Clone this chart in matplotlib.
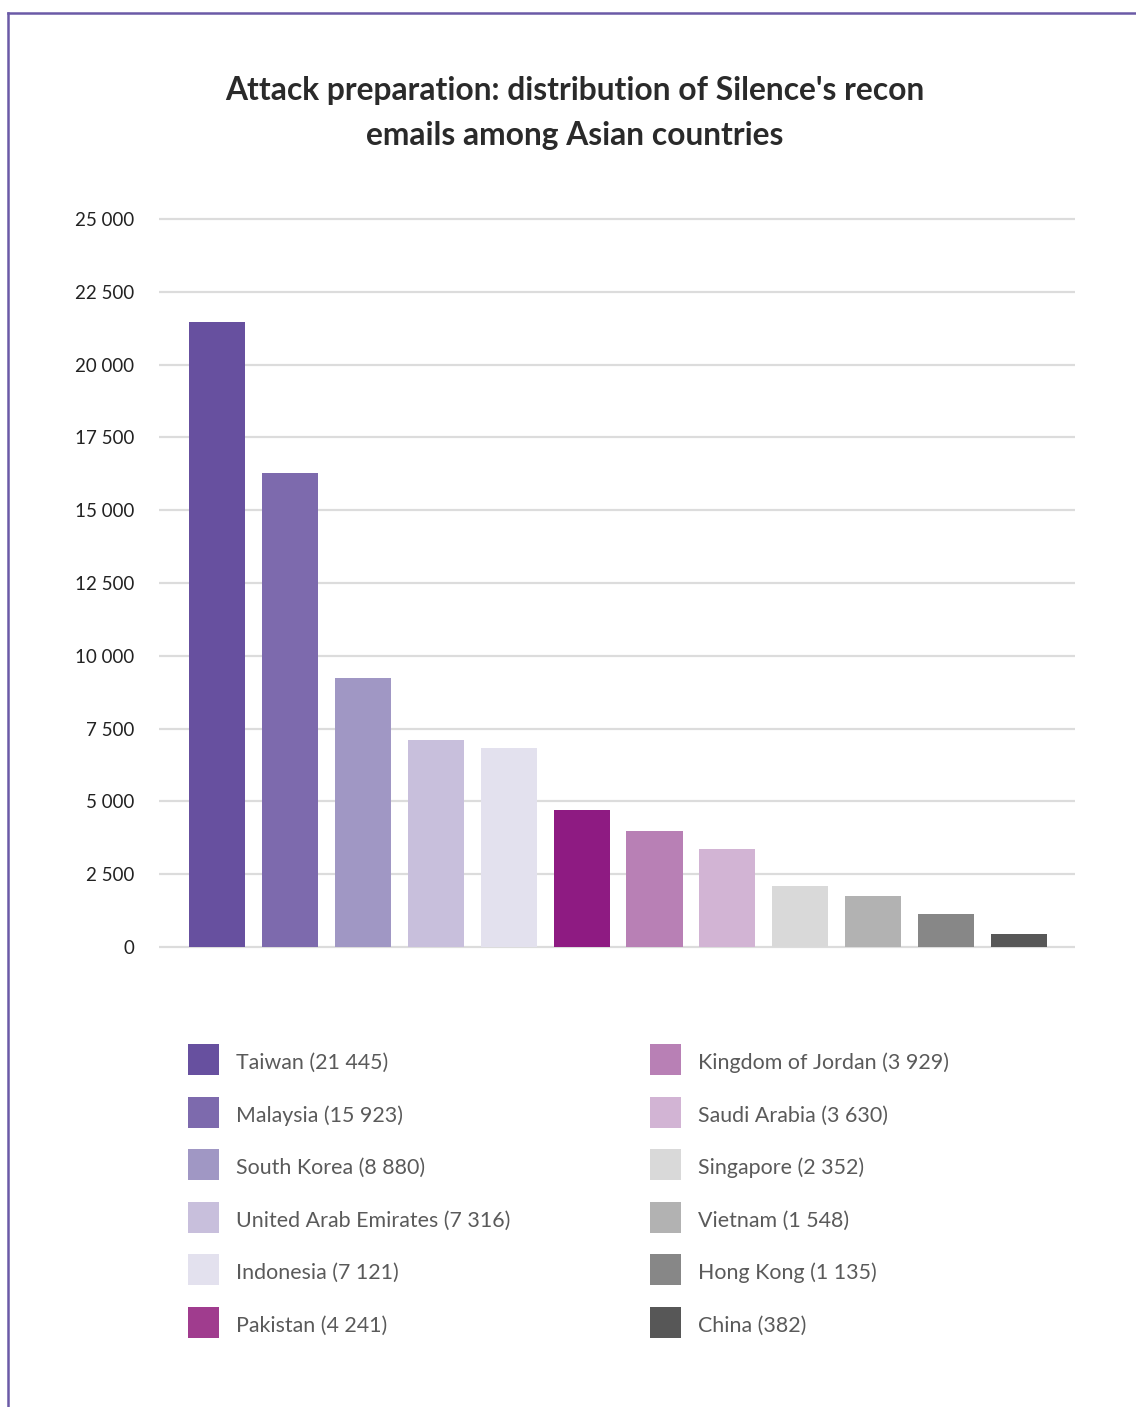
import matplotlib
matplotlib.use('Agg')
import matplotlib.pyplot as plt
from matplotlib.patches import Rectangle
from matplotlib.lines import Line2D
from matplotlib.ticker import FuncFormatter
import numpy as np

plt.rcParams['font.family'] = ['Lato', 'DejaVu Sans']

# bar heights as drawn in the picture (legend labels carry the stated counts)
countries = ['Taiwan', 'Malaysia', 'South Korea', 'United Arab Emirates', 'Indonesia',
             'Pakistan', 'Kingdom of Jordan', 'Saudi Arabia', 'Singapore', 'Vietnam',
             'Hong Kong', 'China']
bar_values = [21470, 16270, 9240, 7110, 6830, 4700, 3970, 3380, 2110, 1760, 1135, 460]
legend_counts = ['21 445', '15 923', '8 880', '7 316', '7 121', '4 241',
                 '3 929', '3 630', '2 352', '1 548', '1 135', '382']
bar_colors = ['#67509f', '#7d6aad', '#a097c4', '#c8bfdc', '#e3e1ee', '#8e1b82',
              '#b880b5', '#d2b4d4', '#d9d9d9', '#b2b2b2', '#878787', '#575757']
legend_colors = list(bar_colors)
legend_colors[5] = '#a03c8e'
yticks = [0, 2500, 5000, 7500, 10000, 12500, 15000, 17500, 20000, 22500, 25000]

W, H = 1136, 1407
fig = plt.figure(figsize=(W / 100, H / 100), dpi=100)


def fx(v):
    return v / W


def fy(v):
    return 1 - v / H


# purple frame on the left and top
fig.add_artist(Line2D([fx(7.5), 1], [fy(13), fy(13)], color='#6b5aa7', lw=1.8,
                      transform=fig.transFigure))
fig.add_artist(Line2D([fx(7.5), fx(7.5)], [0, fy(13)], color='#6b5aa7', lw=1.8,
                      transform=fig.transFigure))

px = 728 / 25000
ylo, yhi = -300, 25300
bottom = fy(947 + 300 * px)
top = fy(219 - 300 * px)
ax = fig.add_axes([fx(159), bottom, fx(1075 - 159), top - bottom])
ax.patch.set_alpha(0)

x = np.arange(len(countries))
ax.bar(x, bar_values, width=0.77, color=bar_colors, zorder=3)
ax.set_xlim(-0.8, len(countries) - 1 + 0.77)
ax.set_ylim(ylo, yhi)
ax.set_yticks(yticks)
ax.yaxis.set_major_formatter(FuncFormatter(lambda v, p: '{:,}'.format(int(v)).replace(',', ' ')))
ax.set_xticks([])
ax.tick_params(axis='y', length=0, pad=18, labelsize=13.5, labelcolor='#222222')
ax.grid(axis='y', color='#dcdcdc', lw=1.6, zorder=1)
for s in ax.spines.values():
    s.set_visible(False)

fig.text(fx(575), fy(100), "Attack preparation: distribution of Silence's recon",
         ha='center', va='baseline', fontsize=22.9, fontweight='bold', color='#2a2a2a')
fig.text(fx(575), fy(145), "emails among Asian countries",
         ha='center', va='baseline', fontsize=22.9, fontweight='bold', color='#2a2a2a')

# legend: two columns of six
for i, (name, cnt, col) in enumerate(zip(countries, legend_counts, legend_colors)):
    c, r = divmod(i, 6)
    sx = 188 if c == 0 else 650
    sy = 1044 + r * 52.5
    fig.add_artist(Rectangle((fx(sx), fy(sy + 31)), fx(31), 31 / H, facecolor=col,
                             edgecolor='none', transform=fig.transFigure))
    fig.text(fx(sx + 48), fy(sy + 25), '{} ({})'.format(name, cnt), ha='left',
             va='baseline', fontsize=15.4, color='#5a5a5a')

fig.savefig('out.png', dpi=100, facecolor='white')
